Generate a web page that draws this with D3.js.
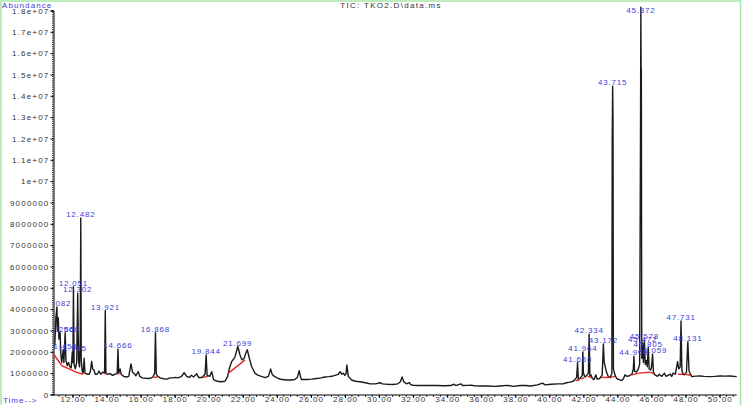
<!DOCTYPE html>
<html><head><meta charset="utf-8">
<script src="https://cdn.jsdelivr.net/npm/d3@7/dist/d3.min.js"></script>
<style>
html,body{margin:0;padding:0;background:#fff;}
svg{display:block;font-family:"Liberation Sans",Arial,sans-serif;}
</style></head>
<body>
<svg id="chart" width="743" height="405"></svg>
<script>
// ---- data (time in min, abundance in millions) ----
const traceTime = [10.88,10.96,11.02,11.08,11.11,11.16,11.20,11.266,11.31,11.36,11.455,11.49,11.566,11.61,11.68,11.76,11.84,11.92,11.985,12.02,12.051,12.09,12.16,12.24,12.302,12.35,12.41,12.45,12.482,12.51,12.56,12.62,12.68,12.73,12.85,12.98,13.05,13.12,13.18,13.25,13.33,13.45,13.55,13.65,13.78,13.88,13.921,13.96,14.05,14.2,14.35,14.5,14.62,14.666,14.71,14.79,14.85,15.0,15.15,15.3,15.43,15.52,15.65,15.72,15.86,15.95,16.1,16.3,16.5,16.7,16.82,16.868,16.92,17.0,17.15,17.35,17.55,17.72,17.9,18.05,18.2,18.4,18.55,18.7,18.85,18.98,19.1,19.29,19.4,19.6,19.78,19.844,19.9,20.05,20.17,20.28,20.5,20.7,20.95,21.1,21.21,21.34,21.45,21.54,21.62,21.699,21.77,21.83,21.95,22.08,22.18,22.26,22.32,22.38,22.52,22.71,22.85,23.0,23.3,23.5,23.63,23.72,23.81,24.08,24.3,24.57,24.8,25.05,25.2,25.31,25.4,25.45,25.75,26.05,26.33,26.6,26.82,27.05,27.31,27.5,27.6,27.71,27.8,27.9,27.98,28.05,28.11,28.19,28.39,28.6,28.88,29.2,29.47,29.8,30.05,30.2,30.5,30.8,31.1,31.25,31.35,31.45,31.6,31.78,31.85,32.0,32.3,32.7,33.0,33.4,33.8,34.2,34.4,34.5,34.8,34.9,35.2,35.4,35.6,36.0,36.4,36.8,37.1,37.5,37.9,38.3,38.6,38.9,39.3,39.6,39.75,40.1,40.5,40.8,41.0,41.2,41.4,41.5,41.6,41.655,41.7,41.8,41.93,41.964,42.0,42.03,42.1,42.2,42.29,42.334,42.38,42.45,42.52,42.62,42.73,42.8,42.95,43.1,43.172,43.22,43.27,43.35,43.46,43.58,43.67,43.69,43.715,43.735,43.76,43.85,43.95,44.1,44.25,44.35,44.44,44.55,44.7,44.85,44.93,44.966,45.0,45.1,45.2,45.3,45.35,45.372,45.385,45.4,45.425,45.472,45.52,45.578,45.63,45.7,45.75,45.805,45.86,45.95,46.0,46.059,46.11,46.2,46.35,46.45,46.6,46.75,46.85,47.1,47.18,47.27,47.4,47.53,47.6,47.68,47.731,47.78,47.85,47.92,48.05,48.131,48.2,48.36,48.6,48.85,49.1,49.43,49.7,50.03,50.3,50.6,51.0];
const traceAbundance = [2.2,2.4,3.6,4.1,3.0,3.6,2.6,2.9,1.9,1.5,2.1,1.5,2.9,1.6,1.35,1.5,1.3,1.25,2.0,1.5,5.05,1.4,1.2,1.5,4.75,1.6,1.3,2.6,8.27,1.6,1.1,1.0,1.7,1.0,0.95,0.95,1.1,1.55,1.2,1.15,0.95,0.95,1.1,0.95,1.05,1.0,3.93,1.0,0.95,0.98,0.9,0.95,1.0,2.12,1.0,1.2,0.95,0.85,0.82,0.85,1.43,1.05,0.95,0.88,1.07,0.85,0.78,0.76,0.75,0.8,1.0,2.9,0.95,0.85,0.78,0.74,0.72,0.78,0.78,0.8,0.78,0.85,1.02,0.85,0.8,0.9,0.82,0.97,0.8,0.8,0.95,1.85,0.9,0.85,1.07,0.7,0.62,0.6,0.62,0.84,1.23,1.54,1.65,1.77,2.0,2.25,2.05,1.85,1.62,1.7,1.95,2.1,1.9,1.7,1.3,1.0,0.92,0.87,0.79,0.85,1.2,0.95,0.87,0.75,0.7,0.68,0.68,0.7,0.8,1.12,0.78,0.7,0.7,0.72,0.75,0.78,0.82,0.84,0.87,0.92,0.95,1.07,0.95,1.0,0.9,0.95,1.38,0.85,0.68,0.62,0.6,0.55,0.5,0.5,0.55,0.5,0.48,0.47,0.5,0.6,0.82,0.6,0.5,0.56,0.47,0.43,0.42,0.42,0.42,0.42,0.41,0.42,0.48,0.42,0.5,0.42,0.43,0.44,0.41,0.4,0.4,0.38,0.4,0.43,0.38,0.42,0.42,0.4,0.45,0.53,0.45,0.48,0.5,0.5,0.55,0.58,0.62,0.7,0.8,1.5,0.7,0.75,0.9,2.0,1.0,0.92,0.82,0.9,1.0,2.83,0.85,0.92,0.75,0.7,0.92,0.72,0.75,0.9,2.37,1.5,1.34,1.05,0.84,0.8,1.0,12,14.45,13,1.2,0.92,0.75,0.7,0.65,0.75,0.92,0.85,0.88,0.95,1.2,1.8,1.1,1.05,1.15,1.4,12,18.15,15.4,15.2,1.7,2.4,1.5,2.55,1.4,1.6,1.3,2.2,1.2,1.15,1.3,1.9,1.05,0.92,0.85,0.95,0.85,1.0,0.85,0.96,0.85,1.0,0.95,1.54,1.2,1.3,3.45,1.15,0.95,0.92,1.05,2.48,1.1,0.84,0.86,0.87,0.85,0.84,0.85,0.87,0.86,0.87,0.84];

const peakLabels  = ["11.082","11.266","11.566","11.455","11.985","12.051","12.302","12.482","13.921","14.666","16.868","19.844","21.699","41.655","41.964","42.334","43.172","43.715","44.966","45.372","45.472","45.578","45.805","46.059","47.731","48.131"];
const peakTimes   = [11.08,11.266,11.566,11.455,11.985,12.051,12.302,12.482,13.921,14.666,16.868,19.844,21.699,41.655,41.964,42.334,43.172,43.715,44.966,45.372,45.472,45.578,45.805,46.059,47.731,48.131];
const peakHeights = [4.1,2.9,2.9,2.1,2.0,5.05,4.75,8.27,3.93,2.12,2.9,1.85,2.25,1.5,2.0,2.83,2.37,14.45,1.8,18.15,2.4,2.55,2.2,1.9,3.45,2.48];

// integration baselines: [t1, v1, t2, v2] (millions)
const baselines = [[10.88,1.9,11.36,1.35],[11.36,1.35,11.92,1.15],[11.92,1.15,12.2,1.05],[12.2,1.05,12.62,0.95],[13.86,0.98,14.0,0.98],[14.6,0.97,14.75,0.97],[16.78,0.8,16.95,0.82],[19.65,0.8,19.95,0.85],[21.15,1.0,22.13,1.62],[41.55,0.65,41.75,0.68],[41.88,0.72,42.05,0.8],[42.25,0.85,42.45,0.8],[43.05,0.8,43.55,0.8],[43.6,0.8,43.85,0.85],[44.85,0.92,45.25,1.0],[45.25,1.0,45.95,1.05],[45.95,1.05,46.15,0.95],[47.55,0.95,47.85,0.95],[48.0,0.95,48.3,0.9]];

const yTickValues = [0,1,2,3,4,5,6,7,8,9,10,11,12,13,14,15,16,17,18];
const yTickLabels = ["0","1000000","2000000","3000000","4000000","5000000","6000000","7000000","8000000","9000000","1e+07","1.1e+07","1.2e+07","1.3e+07","1.4e+07","1.5e+07","1.6e+07","1.7e+07","1.8e+07"];
const xTickValues = [12,14,16,18,20,22,24,26,28,30,32,34,36,38,40,42,44,46,48,50];
const xTickLabels = xTickValues.map(v => v.toFixed(2));

// ---- drawing ----
const svg = d3.select("#chart");
const x = d3.scaleLinear().domain([10.88, 51.0]).range([53.5, 736.7]);
const y = d3.scaleLinear().domain([0, 18]).range([394.5, 10.5]);
const blue = "#3c3cdc";
const grey = "#333";

// green frame
svg.append("rect").attr("x",1).attr("y",1).attr("width",739.5).attr("height",420)
  .attr("fill","none").attr("stroke","#a8e6a8").attr("stroke-width",1.5);

// title
svg.append("text").attr("x",391).attr("y",8).attr("text-anchor","middle")
  .attr("font-size",8).attr("letter-spacing",1.3).attr("fill",grey).text("TIC: TKO2.D\\data.ms");
svg.append("text").attr("x",2).attr("y",8).attr("font-size",8).attr("letter-spacing",1.1)
  .attr("fill",blue).text("Abundance");
svg.append("text").attr("x",3).attr("y",402.5).attr("font-size",8).attr("letter-spacing",1)
  .attr("fill",blue).text("Time-->");

// y axis
const yAxis = d3.axisLeft(y).tickValues(yTickValues).tickFormat((d,i)=>yTickLabels[i]).tickSize(3).tickPadding(1);
const gy = svg.append("g").attr("transform","translate(53.5,0)").call(yAxis);
gy.select(".domain").attr("stroke","#000");
gy.selectAll("text").attr("font-size",8).attr("letter-spacing",1.2).attr("fill",grey)
  .attr("font-family","Liberation Sans, Arial, sans-serif");
const yMinor = d3.range(0, 18.05, 0.1);
gy.selectAll(".minor").data(yMinor).enter().append("line").attr("class","minor")
  .attr("x1",-1.5).attr("x2",0).attr("y1",d=>y(d)).attr("y2",d=>y(d)).attr("stroke","#000").attr("stroke-width",0.8);

// x axis
const xAxis = d3.axisBottom(x).tickValues(xTickValues).tickFormat((d,i)=>xTickLabels[i]).tickSize(3).tickPadding(1);
const gx = svg.append("g").attr("transform","translate(0,395)").call(xAxis);
gx.select(".domain").attr("stroke","#000").attr("d","M53.5,0H736.7");
gx.selectAll("text").attr("font-size",8).attr("letter-spacing",1).attr("fill",grey)
  .attr("y",1.5).attr("dy","0.71em")
  .attr("font-family","Liberation Sans, Arial, sans-serif");
const xMinor = d3.range(11.2, 51.0, 0.4);
gx.selectAll(".minor").data(xMinor).enter().append("line").attr("class","minor")
  .attr("x1",d=>x(d)).attr("x2",d=>x(d)).attr("y1",0).attr("y2",2).attr("stroke","#000").attr("stroke-width",0.8);

// clip
svg.append("clipPath").attr("id","plot").append("rect").attr("x",54).attr("y",0).attr("width",684).attr("height",395);

const plot = svg.append("g").attr("clip-path","url(#plot)");

// trace
const trace = traceTime.map((t,i)=>[t, traceAbundance[i]]);
plot.append("path").datum(trace)
  .attr("d", d3.line().x(d=>x(d[0])).y(d=>y(d[1])))
  .attr("fill","none").attr("stroke","#1a1a1a").attr("stroke-width",1.4).attr("stroke-linejoin","round");

// baselines
plot.selectAll(".base").data(baselines).enter().append("line").attr("class","base")
  .attr("x1",d=>x(d[0])).attr("y1",d=>y(d[1])).attr("x2",d=>x(d[2])).attr("y2",d=>y(d[3]))
  .attr("stroke","#e82020").attr("stroke-width",1.4);

// peak labels
plot.selectAll(".plabel").data(peakLabels).enter().append("text").attr("class","plabel")
  .attr("x",(d,i)=>x(peakTimes[i]))
  .attr("y",(d,i)=>Math.max(y(peakHeights[i]) - 1, 13))
  .attr("text-anchor","middle").attr("font-size",8).attr("letter-spacing",0.8)
  .attr("fill",blue).text(d=>d);
</script>
</body></html>
